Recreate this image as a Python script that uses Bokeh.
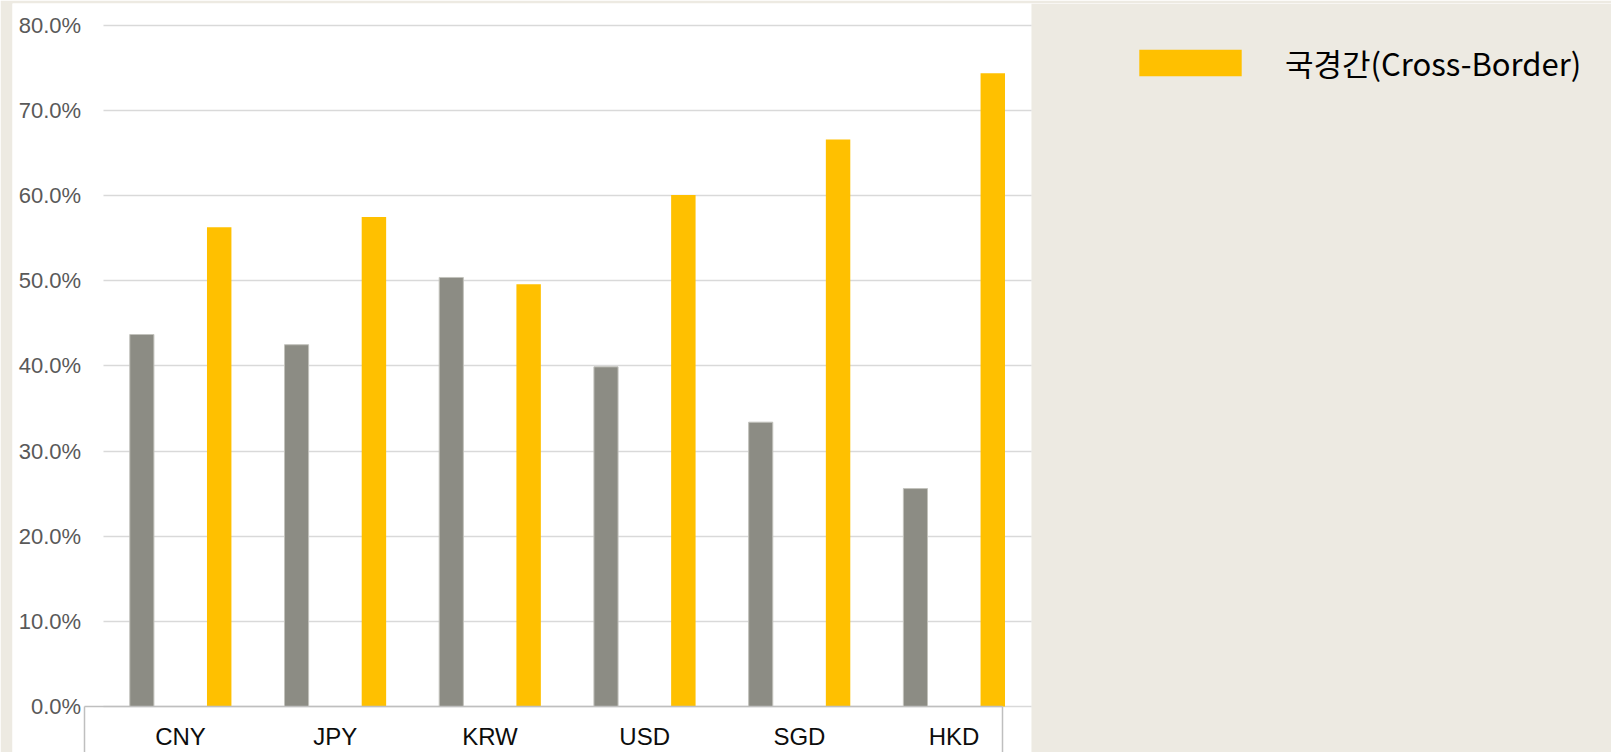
from bokeh.plotting import figure
from bokeh.models import (ColumnDataSource, Range1d, LinearAxis, FixedTicker,
                          PrintfTickFormatter, CustomJSTickFormatter, Grid,
                          Legend, LegendItem, BoxAnnotation)
from bokeh.embed import file_html
from bokeh.resources import INLINE

# Share of settlement by currency: domestic vs cross-border (%)
currencies = ["CNY", "JPY", "KRW", "USD", "SGD", "HKD"]
domestic = [43.7, 42.5, 50.4, 39.9, 33.4, 25.6]
cross_border = [56.3, 57.5, 49.6, 60.1, 66.6, 74.4]
y_ticks = [0, 10, 20, 30, 40, 50, 60, 70, 80]
cross_border_label = "국경간(Cross-Border)"

PANEL_BG = "#EDEAE2"
GRAY = "#8C8C84"
GOLD = "#FFC000"
GRID = "#D9D9D9"
FRAME_LINE = "#BFBFBF"

n = len(currencies)
src = ColumnDataSource(dict(
    x_dom=[i + 0.25 for i in range(n)],
    x_cb=[i + 0.75 for i in range(n)],
    domestic=domestic,
    cross_border=cross_border,
))

# the frame spans the chart panel and the legend area to its right;
# the categories occupy x in [0, n]
p = figure(width=1611, height=752, output_backend="svg", toolbar_location=None,
           x_axis_location=None, y_axis_location=None,
           x_range=Range1d(-0.586, 9.749), y_range=Range1d(-5.404, 82.584),
           min_border_left=12, min_border_right=0,
           min_border_top=3, min_border_bottom=0)
p.border_fill_color = PANEL_BG
p.background_fill_color = "white"
p.outline_line_color = None
p.grid.grid_line_color = None

# tinted legend area to the right of the chart panel
p.add_layout(BoxAnnotation(left=n, fill_color=PANEL_BG, fill_alpha=1.0,
                           line_color=None, level="underlay"))

# value axis, drawn inside the panel at the start of the category area
y_axis = LinearAxis(fixed_location=0, ticker=FixedTicker(ticks=y_ticks),
                    formatter=PrintfTickFormatter(format="%.1f%%"))
y_axis.axis_line_color = None
y_axis.major_tick_line_color = None
y_axis.minor_tick_line_color = None
y_axis.major_tick_out = 0
y_axis.major_tick_in = 0
y_axis.major_label_standoff = 22
y_axis.major_label_text_font = "Liberation Sans"
y_axis.major_label_text_font_size = "22px"
y_axis.major_label_text_color = "#595959"
p.add_layout(y_axis, "left")

grid = Grid(dimension=1, ticker=y_axis.ticker, cross_bounds=(0, n),
            grid_line_color=GRID, grid_line_width=1.5)
p.add_layout(grid, "center")

# frame of the category label row
box_left, box_right = -0.121, 5.815
box_axis = LinearAxis(fixed_location=0, bounds=(box_left - 0.001, box_right + 0.001),
                      ticker=FixedTicker(ticks=[box_left, box_right]))
box_axis.axis_line_color = FRAME_LINE
box_axis.axis_line_width = 1.5
box_axis.major_tick_line_color = FRAME_LINE
box_axis.major_tick_line_width = 1.5
box_axis.major_tick_in = 0
box_axis.major_tick_out = 80
box_axis.minor_tick_line_color = None
box_axis.major_label_text_color = None
p.add_layout(box_axis, "below")

# category labels
x_axis = LinearAxis(fixed_location=0,
                    ticker=FixedTicker(ticks=[i + 0.5 for i in range(n)]),
                    formatter=CustomJSTickFormatter(
                        args=dict(labels=currencies),
                        code="const k = Math.floor(tick); return labels[k] ?? '';"))
x_axis.axis_line_color = None
x_axis.major_tick_line_color = None
x_axis.minor_tick_line_color = None
x_axis.major_tick_out = 0
x_axis.major_tick_in = 0
x_axis.major_label_standoff = 17
x_axis.major_label_text_font = "Liberation Sans"
x_axis.major_label_text_font_size = "24px"
x_axis.major_label_text_color = "#0D0D0D"
p.add_layout(x_axis, "below")

p.vbar(x="x_dom", top="domestic", bottom=0, width=0.156, source=src,
       fill_color=GRAY, line_color="#C2C2BC", line_width=1)
cb = p.vbar(x="x_cb", top="cross_border", bottom=0, width=0.158, source=src,
            fill_color=GOLD, line_color=None)

legend = Legend(items=[LegendItem(label=cross_border_label, renderers=[cb])],
                location=(1114, 667), orientation="vertical",
                glyph_width=128, glyph_height=33, label_standoff=31,
                padding=0, margin=0, spacing=0,
                border_line_color=None, background_fill_alpha=0,
                label_text_font="Noto Sans CJK KR", label_text_font_size="31px",
                label_text_color="#000000")
p.add_layout(legend, "center")

open("out.html", "w").write(file_html(p, INLINE))
